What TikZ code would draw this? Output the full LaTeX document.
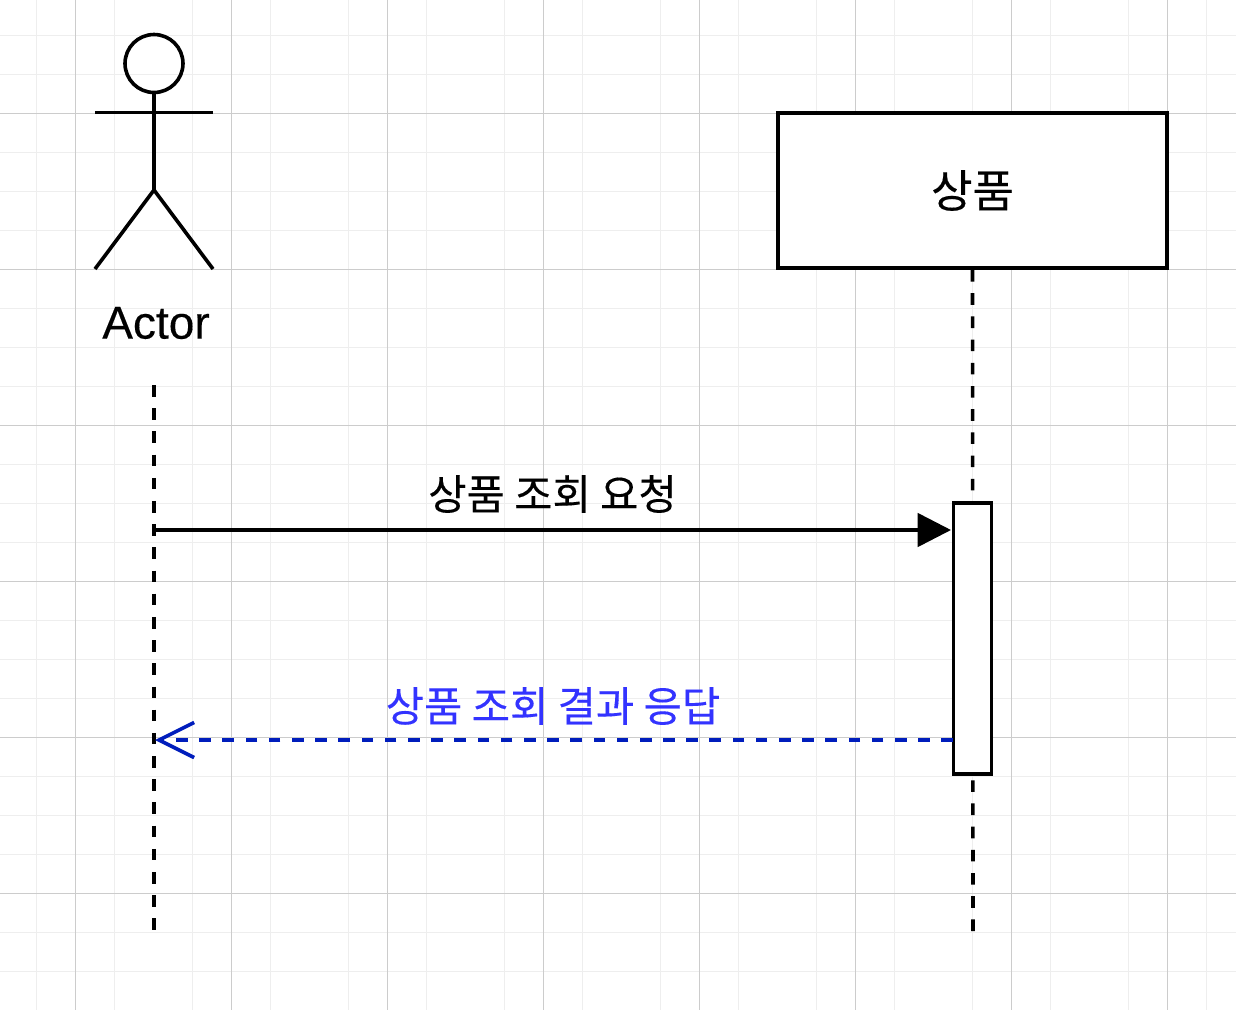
\documentclass[tikz,border=0pt]{standalone}
\usepackage{fontspec}
\setmainfont{Liberation Sans}
\newfontfamily\krfont[FakeBold=0.25]{Noto Sans CJK KR}
\newfontfamily\actorfont[FakeBold=0.25]{Liberation Sans}
\usetikzlibrary{arrows.meta}
\definecolor{gridmajor}{HTML}{CCCCCC}
\definecolor{gridminor}{HTML}{EEEEEE}
\definecolor{replyline}{HTML}{001DBC}
\definecolor{replytext}{HTML}{3333FF}
\begin{document}
\begin{tikzpicture}
[x=0.02cm,y=-0.02cm,
  linedecorate/.style={line width=2.05pt,black},%
  lifedecorate/.style={linedecorate,dash pattern=on 6.6pt off 6.6pt},%
  boxdecorate/.style={draw,line width=2.05pt,fill=white,inner sep=0pt},%
  labeldecorate/.style={font=\krfont\fontsize{23.7}{28}\selectfont,inner sep=0pt},%
  requestdecorate/.style={linedecorate,-{Triangle[length=19pt,width=19pt]}},%
  replydecorate/.style={line width=2.05pt,replyline,dash pattern=on 6.6pt off 6.6pt,
    -{Straight Barb[length=20pt,width=20pt,line width=2.05pt]}}]
\useasboundingbox (0,0) rectangle (1236,1010);
%% grid
\foreach \x in {36.5,114.5,192.5,...,1236} {
  \draw[gridminor,line width=0.7pt] (\x,0) -- (\x,1010);
}
\foreach \y in {35.5,74.5,...,1010} {
  \draw[gridminor,line width=0.7pt] (0,\y) -- (1236,\y);
}
\foreach \x in {75.5,231.5,...,1236} {
  \draw[gridmajor,line width=0.6pt] (\x,0) -- (\x,1010);
}
\foreach \y in {113.5,269.5,...,1010} {
  \draw[gridmajor,line width=0.6pt] (0,\y) -- (1236,\y);
}
%% actor
\node (head) at (154,63.5) [circle,draw,line width=2.05pt,inner sep=0pt,minimum size=33pt] {};
\foreach \nodename/\x/\y in {armleft/95/112.5, armright/213/112.5, hip/154/190,
  footleft/95/269, footright/213/269, lifetop/154/385, lifeend/154/931,
  productend/973/931, reqstart/154/530, reqend/951/530, replystart/953/740,
  replyend/155/740} {
  \coordinate (\nodename) at (\x,\y);
}
\draw[linedecorate] (armleft) -- (armright);
\draw[linedecorate] (head.south) -- (hip);
\draw[linedecorate] (footleft) -- (hip) -- (footright);
\node (actor) at (156,323) [font=\actorfont\fontsize{26.2}{30}\selectfont,inner sep=0pt] {Actor};
%% product box
\node (product) at (972.5,190.5) [boxdecorate,labeldecorate,font=\krfont\fontsize{25.6}{30}\selectfont,
  minimum width=221.5pt,minimum height=88.5pt] {상품};
%% lifelines
\draw[lifedecorate] (lifetop) -- (lifeend);
\draw[lifedecorate] (product.south) -- (productend);
%% activation
\node (active) at (972.5,638.5) [boxdecorate,minimum width=21.5pt,minimum height=154.5pt] {};
%% messages
\draw[requestdecorate] (reqstart) -- (reqend);
\node (reqlabel) at (552.5,494) [labeldecorate] {상품 조회 요청};
\draw[replydecorate] (replystart) -- (replyend);
\node (replylabel) at (553,706) [labeldecorate,text=replytext] {상품 조회 결과 응답};
\end{tikzpicture}
\end{document}
